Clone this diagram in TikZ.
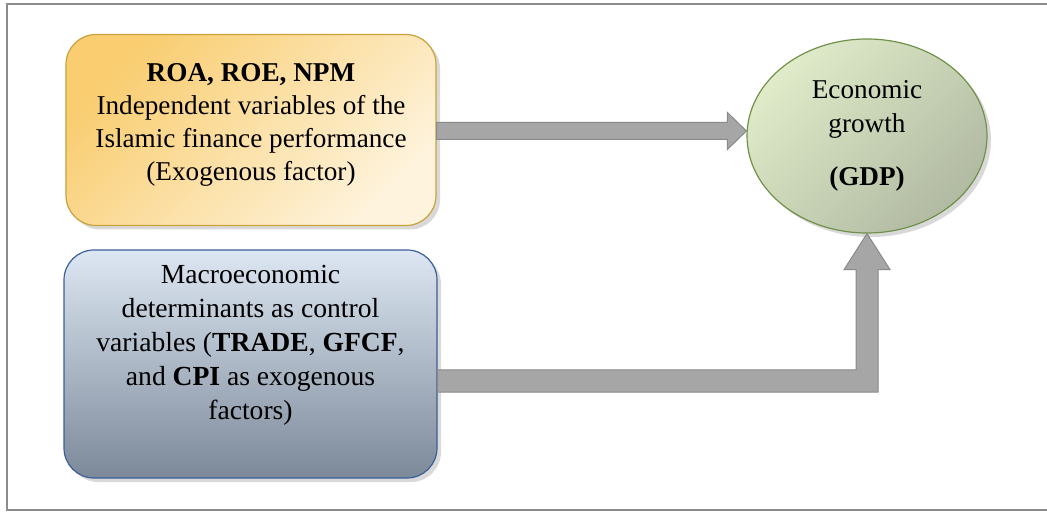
\documentclass[tikz,border=0pt]{standalone}
\usepackage{fontspec}
\setmainfont{Liberation Serif}
\usetikzlibrary{calc,shadows,shapes.geometric}

\definecolor{framegray}{HTML}{8C8C8C}
\definecolor{yellowA}{HTML}{F9CD70}
\definecolor{yellowB}{HTML}{FEF3DC}
\definecolor{yellowline}{HTML}{C9A23C}
\definecolor{blueA}{HTML}{DDE7F3}
\definecolor{blueB}{HTML}{7C8999}
\definecolor{blueline}{HTML}{3C5E99}
\definecolor{greenA}{HTML}{DFEBC9}
\definecolor{greenB}{HTML}{B1BAA2}
\definecolor{greenline}{HTML}{6F9148}
\definecolor{arrowfill}{HTML}{A6A6A6}
\definecolor{arrowline}{HTML}{8A8A8A}

\tikzset{
    boxshadow/.style={drop shadow={opacity=0.3, shadow xshift=2pt, shadow yshift=-2pt}},
    yellowbox/.style={rounded corners=15pt, draw=yellowline, line width=0.6pt,
        top color=yellowA, bottom color=yellowB, shading angle=45, boxshadow,
        minimum width=185pt, minimum height=95.5pt},
    bluebox/.style={rounded corners=15pt, draw=blueline, line width=0.6pt,
        top color=blueA, bottom color=blueB, boxshadow,
        minimum width=186.5pt, minimum height=114pt},
    greenball/.style={ellipse, draw=greenline, line width=0.6pt, inner sep=1pt,
        top color=greenA, bottom color=greenB, shading angle=45, boxshadow,
        minimum width=120pt, minimum height=97pt, align=center},
    boxtext/.style={align=center, inner sep=0pt},
    blockarrow/.style={fill=arrowfill, draw=arrowline, line width=0.5pt},
}

\begin{document}
\begin{tikzpicture}[x=0.5pt, y=-0.5pt, font=\fontsize{13.6}{16.6}\selectfont]
    \useasboundingbox (0,0) rectangle (1047,512);
    \draw[framegray, line width=1pt] (7,4) rectangle (1056,510);

    % boxes
    \node[yellowbox] (roa) at (251,130) {};
    \node[boxtext] (roatext) at (251,125) {\textbf{ROA, ROE, NPM}\\Independent variables of the\\Islamic finance performance\\(Exogenous factor)};
    \node[bluebox] (macro) at (250.5,364) {};
    \node[boxtext, font=\fontsize{13.8}{17}\selectfont] (macrotext) at (250.5,345) {Macroeconomic\\determinants as control\\variables (\textbf{TRADE}, \textbf{GFCF},\\and \textbf{CPI} as exogenous\\factors)};
    \node[greenball] (gdp) at (867,136) {Economic\\growth\\[10pt]\textbf{(GDP)}};

    % block arrows
    \coordinate (a0) at ($(roa.east)+(0,1)$);
    \coordinate (a1) at (a0 -| gdp.west);
    \filldraw[blockarrow] ($(a0)+(0,-8.5)$) -- ($(a1)+(-19,-8.5)$) -- ($(a1)+(-19,-18.5)$) -- (a1)
        -- ($(a1)+(-19,18.5)$) -- ($(a1)+(-19,8.5)$) -- ($(a0)+(0,8.5)$) -- cycle;

    \coordinate (b0) at ($(macro.east)+(0,17)$);
    \coordinate (b1) at (b0 -| gdp.south);
    \filldraw[blockarrow] ($(b0)+(0,-11)$) -- ($(b1)+(-11,-11)$) -- ($(gdp.south)+(-11,36)$)
        -- ($(gdp.south)+(-23,36)$) -- (gdp.south) -- ($(gdp.south)+(23,36)$)
        -- ($(gdp.south)+(11,36)$) -- ($(b1)+(11,11)$) -- ($(b0)+(0,11)$) -- cycle;
\end{tikzpicture}
\end{document}
